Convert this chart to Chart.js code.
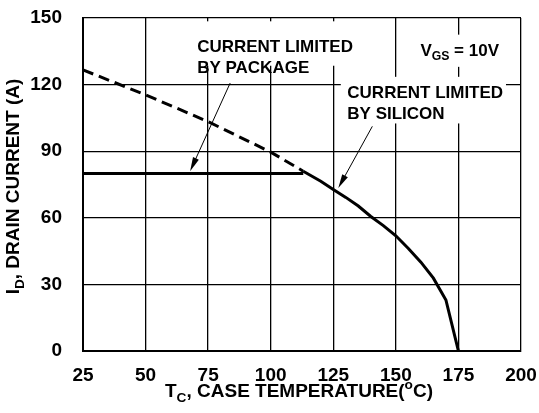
<!DOCTYPE html>
<html>
<head>
<meta charset="utf-8">
<script src="https://cdn.jsdelivr.net/npm/chart.js@4.4.0/dist/chart.umd.min.js"></script>
<style>
  body { margin: 0; background: #fff; }
  #wrap { width: 539px; height: 413px; }
</style>
</head>
<body>
<div id="wrap"><canvas id="myChart" width="539" height="413"></canvas></div>
<script>
// temperature (C) / drain current (A)
const packageT = [25, 113];
const packageI = [80, 80];
const siliconT = [113, 120, 125, 130, 135, 140, 145, 150, 155, 160, 165, 170, 175];
const siliconI = [81, 76.5, 72.8, 69.2, 65.3, 60.6, 56.5, 51.9, 46.2, 40, 32.8, 23, 0];
const dashT = [25, 50, 75, 100, 113];
const dashI = [126.6, 115.4, 103.3, 89.6, 81];
const xTicks = [25, 50, 75, 100, 125, 150, 175, 200];
const yTicks = [0, 30, 60, 90, 120, 150];

const FONT = '"Liberation Sans", Arial, sans-serif';

function pts(xs, ys) {
  return xs.map((x, i) => ({x: x, y: ys[i]}));
}

// draw text made of pieces, some sub/superscript
function rich(ctx, parts, x, y, size, align) {
  let w = 0;
  parts.forEach(p => {
    const s = p[1] ? size * 0.72 : size;
    ctx.font = 'bold ' + s + 'px ' + FONT;
    w += ctx.measureText(p[0]).width;
  });
  let cx = align === 'center' ? x - w / 2 : x;
  ctx.textAlign = 'left';
  ctx.textBaseline = 'alphabetic';
  parts.forEach(p => {
    const s = p[1] ? size * 0.72 : size;
    ctx.font = 'bold ' + s + 'px ' + FONT;
    let dy = 0;
    if (p[1] === 'sub') dy = size * 0.25;
    if (p[1] === 'sup') dy = -size * 0.42;
    ctx.fillText(p[0], cx, y + dy);
    cx += ctx.measureText(p[0]).width;
  });
}

function arrow(ctx, x1, y1, x2, y2) {
  const a = Math.atan2(y2 - y1, x2 - x1);
  const len = 14, half = 3.2;
  ctx.strokeStyle = '#000';
  ctx.lineWidth = 1;
  ctx.beginPath();
  ctx.moveTo(x1, y1);
  ctx.lineTo(x2 - Math.cos(a) * len * 0.8, y2 - Math.sin(a) * len * 0.8);
  ctx.stroke();
  ctx.fillStyle = '#000';
  ctx.beginPath();
  ctx.moveTo(x2, y2);
  ctx.lineTo(x2 - Math.cos(a) * len - Math.sin(a) * half, y2 - Math.sin(a) * len + Math.cos(a) * half);
  ctx.lineTo(x2 - Math.cos(a) * len + Math.sin(a) * half, y2 - Math.sin(a) * len - Math.cos(a) * half);
  ctx.closePath();
  ctx.fill();
}

const notes = {
  id: 'notes',
  afterDatasetsDraw(chart) {
    const ctx = chart.ctx;
    const xs = chart.scales.x, ys = chart.scales.y;
    const X = v => xs.getPixelForValue(v), Y = v => ys.getPixelForValue(v);
    ctx.save();
    // white boxes behind the labels cut the grid
    ctx.fillStyle = '#fff';
    ctx.fillRect(X(68), Y(148.5), X(135) - X(68), Y(128.5) - Y(148.5));
    ctx.fillRect(X(128), Y(123.5), X(194) - X(128), Y(102.5) - Y(123.5));
    ctx.fillRect(X(158), Y(142.5), X(193) - X(158), Y(128) - Y(142.5));
    ctx.fillStyle = '#000';
    rich(ctx, [['CURRENT LIMITED']], X(70.6), Y(134.6), 17);
    rich(ctx, [['BY PACKAGE']], X(70.6), Y(125.2), 17);
    rich(ctx, [['CURRENT LIMITED']], X(130.6), Y(113.9), 17);
    rich(ctx, [['BY SILICON']], X(130.6), Y(104.4), 17);
    rich(ctx, [['V'], ['GS', 'sub'], [' = 10V']], X(159.8), Y(132.8), 17);
    arrow(ctx, X(83.8), Y(120.7), X(67.8), Y(81));
    arrow(ctx, X(140.6), Y(101.2), X(127), Y(73.4));
    // axis titles
    const ca = chart.chartArea;
    rich(ctx, [['T'], ['C', 'sub'], [', CASE TEMPERATURE('], ['o', 'sup'], ['C)']], (ca.left + ca.right) / 2 - 3, 397, 19, 'center');
    ctx.translate(19, (ca.top + ca.bottom) / 2 + 2);
    ctx.rotate(-Math.PI / 2);
    rich(ctx, [['I'], ['D', 'sub'], [', DRAIN CURRENT (A)']], 0, 0, 19, 'center');
    ctx.restore();
  }
};

new Chart(document.getElementById('myChart'), {
  type: 'line',
  data: {
    datasets: [
      {data: pts(dashT, dashI), borderColor: '#000', borderWidth: 3, borderDash: [11, 6], pointRadius: 0, fill: false},
      {data: pts(packageT, packageI), borderColor: '#000', borderWidth: 3, pointRadius: 0, fill: false},
      {data: pts(siliconT, siliconI), borderColor: '#000', borderWidth: 3, pointRadius: 0, fill: false}
    ]
  },
  options: {
    responsive: false,
    animation: false,
    events: [],
    layout: {padding: {top: 18, right: 18, left: 0, bottom: 0}},
    plugins: {legend: {display: false}, tooltip: {enabled: false}},
    scales: {
      x: {
        type: 'linear', min: 25, max: 200,
        afterBuildTicks: s => { s.ticks = xTicks.map(v => ({value: v})); },
        afterFit: s => { s.height = 62; },
        grid: {color: '#000', lineWidth: 1.3, drawTicks: true, tickLength: 13, tickColor: 'rgba(0,0,0,0)'},
        border: {color: '#000', width: 2},
        ticks: {color: '#000', padding: 0, maxRotation: 0, font: {family: FONT, size: 19, weight: 'bold'}}
      },
      y: {
        min: 0, max: 150,
        afterBuildTicks: s => { s.ticks = yTicks.map(v => ({value: v})); },
        afterFit: s => { s.width = 83; },
        grid: {color: '#000', lineWidth: 1.3, drawTicks: true, tickLength: 21, tickColor: 'rgba(0,0,0,0)'},
        border: {color: '#000', width: 2},
        ticks: {color: '#000', padding: 0, font: {family: FONT, size: 19, weight: 'bold'}}
      }
    }
  },
  plugins: [notes]
});
</script>
</body>
</html>
